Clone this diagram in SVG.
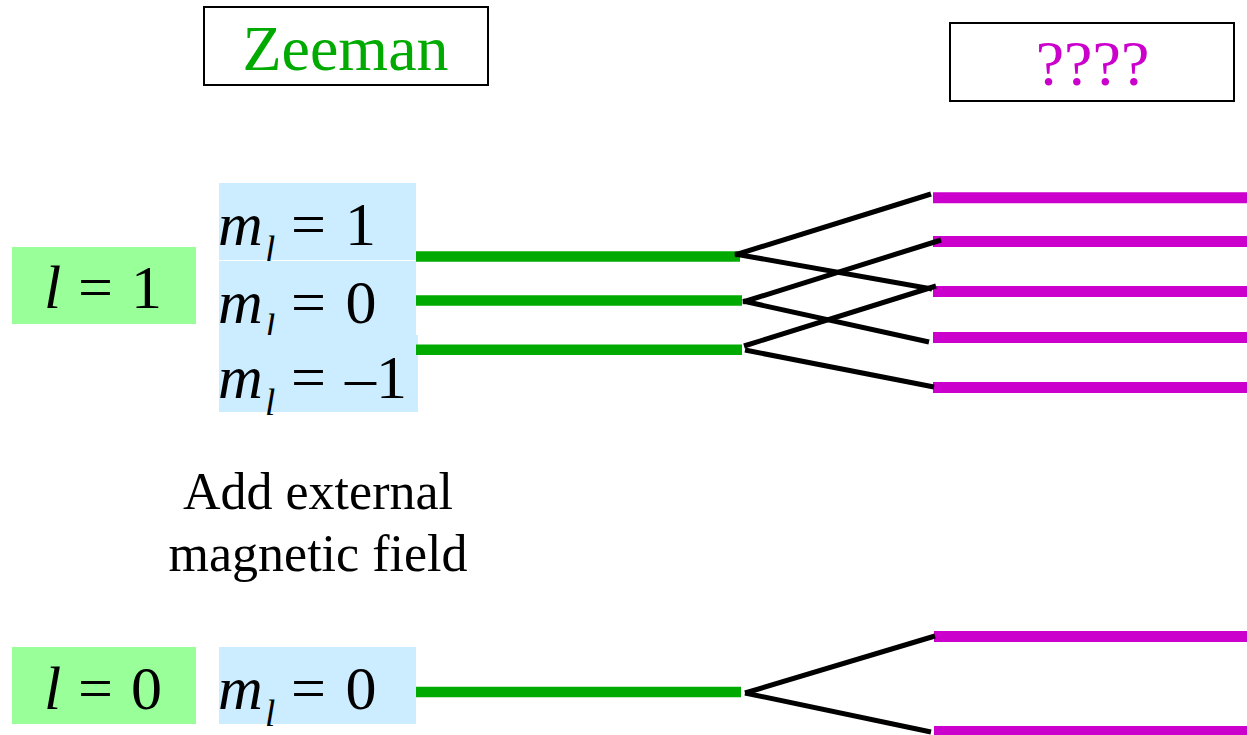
<svg xmlns="http://www.w3.org/2000/svg" width="1247" height="735" viewBox="0 0 1247 735">
<style>
.t{font-family:"Liberation Serif","Times New Roman",serif;fill:#000}
.i{font-style:italic}
.big{font-size:62px}
.sub{font-size:37px}
.lab{fill:#99FF99}
.ml{fill:#CCECFF}
.title{fill:#fff;stroke:#000;stroke-width:2}
.g{stroke:#00AA00;stroke-width:10.5}
.p{stroke:#CC00CC;stroke-width:11}
.k{stroke:#000;stroke-width:5;stroke-linecap:butt}
</style>
<rect width="1247" height="735" fill="#fff"/>
<g id="zeeman">
<rect class="title" x="204" y="7" width="284" height="78"/>
<text class="t" x="345.5" y="70" font-size="64" text-anchor="middle" style="fill:#00AA00">Zeeman</text>
</g>
<g id="unknown">
<rect class="title" x="950" y="23" width="284" height="78"/>
<text class="t" x="1092.5" y="85" font-size="64" text-anchor="middle" style="fill:#CC00CC">????</text>
</g>
<g id="l1">
<rect class="lab" x="12" y="247" width="184" height="77"/>
<text class="t big" y="308"><tspan class="i" x="44">l</tspan><tspan x="78">=</tspan><tspan x="131">1</tspan></text>
</g>
<g id="ml1">
<rect class="ml" x="219" y="183" width="197" height="77"/>
<text class="t big" y="245"><tspan class="i" x="218">m</tspan><tspan x="291">=</tspan><tspan x="345">1</tspan></text>
<text class="t sub i" x="265" y="262">l</text>
</g>
<g id="ml0">
<rect class="ml" x="219" y="261" width="197" height="74"/>
<text class="t big" y="323"><tspan class="i" x="218">m</tspan><tspan x="291">=</tspan><tspan x="345.5">0</tspan></text>
<text class="t sub i" x="265" y="340">l</text>
</g>
<g id="mlm1">
<rect class="ml" x="219" y="335" width="199" height="77"/>
<text class="t big" y="398"><tspan class="i" x="218">m</tspan><tspan x="291">=</tspan><tspan x="345">–</tspan><tspan x="376">1</tspan></text>
<text class="t sub i" x="265" y="415">l</text>
</g>
<g id="caption">
<text class="t" x="318" y="509" font-size="52" text-anchor="middle">Add external</text>
<text class="t" x="318" y="571" font-size="52" text-anchor="middle">magnetic field</text>
</g>
<g id="l0">
<rect class="lab" x="12" y="647" width="184" height="77"/>
<text class="t big" y="709"><tspan class="i" x="44">l</tspan><tspan x="78">=</tspan><tspan x="131">0</tspan></text>
</g>
<g id="ml0b">
<rect class="ml" x="219" y="647" width="197" height="77"/>
<text class="t big" y="709"><tspan class="i" x="218">m</tspan><tspan x="291">=</tspan><tspan x="345.5">0</tspan></text>
<text class="t sub i" x="265" y="726">l</text>
</g>
<g id="levels">
<line class="g" x1="416" y1="256.5" x2="740" y2="256.5"/>
<line class="g" x1="416" y1="300.5" x2="742" y2="300.5"/>
<line class="g" x1="416" y1="349.7" x2="742" y2="349.7"/>
<line class="g" x1="416" y1="692" x2="741" y2="692"/>
<line class="p" x1="933" y1="197.8" x2="1247" y2="197.8"/>
<line class="p" x1="933" y1="241.5" x2="1247" y2="241.5"/>
<line class="p" x1="933" y1="291.5" x2="1247" y2="291.5"/>
<line class="p" x1="933" y1="337.5" x2="1247" y2="337.5"/>
<line class="p" x1="933" y1="387.5" x2="1247" y2="387.5"/>
<line class="p" x1="934" y1="636.5" x2="1247" y2="636.5"/>
<line class="p" x1="934" y1="731.5" x2="1247" y2="731.5"/>
</g>
<g id="connectors">
<line class="k" x1="735" y1="255" x2="931" y2="194"/>
<line class="k" x1="735" y1="254" x2="932" y2="289"/>
<line class="k" x1="743" y1="302" x2="941" y2="240"/>
<line class="k" x1="743" y1="301" x2="929" y2="342"/>
<line class="k" x1="744" y1="346" x2="936" y2="286"/>
<line class="k" x1="745" y1="350" x2="934" y2="387"/>
<line class="k" x1="745" y1="693" x2="935" y2="636"/>
<line class="k" x1="745" y1="693" x2="931" y2="732"/>
</g>
</svg>
